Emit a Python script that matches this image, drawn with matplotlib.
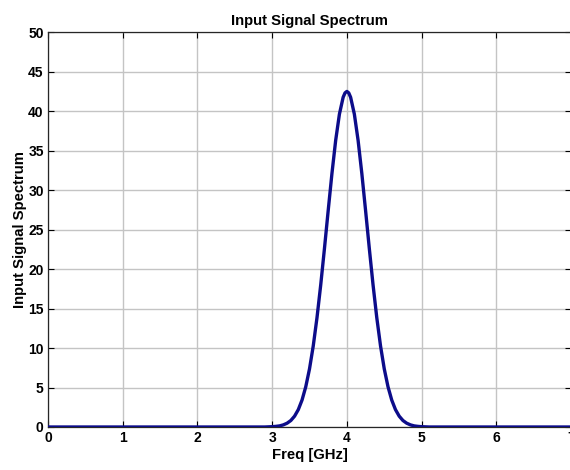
import matplotlib
matplotlib.use("Agg")
import matplotlib.pyplot as plt

# spectrum samples around the 4 GHz carrier
freq_ghz = [0.0, 2.9, 3.0, 3.05, 3.1, 3.15, 3.2, 3.25, 3.3, 3.35, 3.4, 3.45, 3.5,
            3.55, 3.6, 3.65, 3.7, 3.75, 3.8, 3.85, 3.9, 3.95, 3.975, 4.0, 4.025,
            4.05, 4.1, 4.15, 4.2, 4.25, 4.3, 4.35, 4.4, 4.45, 4.5,
            4.55, 4.6, 4.65, 4.7, 4.75, 4.8, 4.85, 4.9, 4.95, 5.0, 5.1, 7.0]
spectrum = [0.0, 0.0, 0.04, 0.08, 0.14, 0.27, 0.48, 0.82, 1.37, 2.2, 3.41, 5.1, 7.36,
            10.27, 13.84, 18.0, 22.61, 27.42, 32.1, 36.3, 39.62, 41.76, 42.31, 42.5, 42.31,
            41.76, 39.62, 36.3, 32.1, 27.42, 22.61, 18.0, 13.84, 10.27, 7.36,
            5.1, 3.41, 2.2, 1.37, 0.82, 0.48, 0.27, 0.14, 0.08, 0.04, 0.0, 0.0]
x_ticks = [0, 1, 2, 3, 4, 5, 6, 7]
y_ticks = [0, 5, 10, 15, 20, 25, 30, 35, 40, 45, 50]

plt.rcParams["font.family"] = ["Liberation Sans", "DejaVu Sans"]
plt.rcParams["font.weight"] = "bold"

fig = plt.figure(figsize=(5.7, 4.7), dpi=100)
ax = fig.add_axes([0.084, 0.0915, 0.918, 0.840])

ax.plot(freq_ghz, spectrum, color="#0c0c8a", linewidth=2.4, zorder=3,
        solid_joinstyle="round")

ax.set_xlim(0, 7)
ax.set_ylim(0, 50)
ax.set_xticks(x_ticks)
ax.set_yticks(y_ticks)
ax.tick_params(direction="in", length=4, width=0.8, top=True, right=True,
               labelsize=10, pad=3)
for lbl in ax.get_xticklabels() + ax.get_yticklabels():
    lbl.set_fontweight("bold")

ax.grid(True, color="#c4c4c4", linewidth=1.0)
ax.set_axisbelow(True)
for s in ax.spines.values():
    s.set_linewidth(0.9)
    s.set_color("#262626")

ax.set_title("Input Signal Spectrum", fontsize=10.7, fontweight="bold", pad=5)
ax.set_xlabel("Freq [GHz]", fontsize=10.7, fontweight="bold", labelpad=2)
ax.set_ylabel("Input Signal Spectrum", fontsize=10.7, fontweight="bold", labelpad=1)

fig.savefig("out.png", dpi=100)
